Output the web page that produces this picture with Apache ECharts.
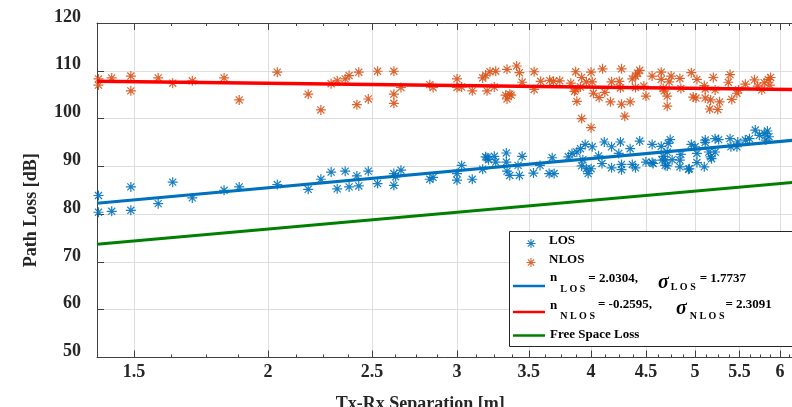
<!DOCTYPE html>
<html>
<head>
<meta charset="UTF-8">
<title>Path Loss</title>
<script src="https://cdn.jsdelivr.net/npm/echarts@6/dist/echarts.min.js"></script>
<style>
html, body { margin: 0; padding: 0; background: #fff; }
#main { width: 792px; height: 407px; }
</style>
</head>
<body>
<div id="main"></div>
<script type="text/javascript">
// axis ticks / range
var xTicks = [1.5, 2, 2.5, 3, 3.5, 4, 4.5, 5, 5.5, 6];
var xMin = 1.3856, xMax = 6.2;
var yMin = 50, yMax = 120, yStep = 10;

// measured points [distance m, path loss dB]
var losPoints = [
  [1.39, 83.9], [1.39, 80.4], [1.43, 80.6], [1.49, 85.7], [1.49, 80.8], [1.58, 82.2], [1.63, 86.7],
  [1.70, 83.4], [1.82, 85.0], [1.88, 85.7], [2.04, 86.2], [2.18, 85.2],
  [2.24, 87.3], [2.29, 88.8], [2.32, 85.3], [2.36, 89.0], [2.38, 85.7], [2.42, 88.0], [2.43, 85.9],
  [2.48, 89.0], [2.53, 86.4], [2.62, 86.0], [2.62, 88.5], [2.63, 87.8], [2.66, 89.2], [2.83, 87.3],
  [2.85, 87.7], [3.0, 88.5], [3.0, 87.1], [3.03, 90.2], [3.10, 87.3], [3.17, 89.4], [3.19, 92.0],
  [3.21, 91.4], [3.25, 92.1], [3.26, 90.9], [3.20, 91.8], [3.335, 92.8], [3.335, 90.9], [3.34, 89.0],
  [3.36, 88.1], [3.42, 90.2], [3.43, 88.1], [3.45, 92.1], [3.535, 88.6], [3.585, 90.2], [3.656, 88.5],
  [3.695, 88.5], [3.68, 91.8], [3.81, 92.0], [3.84, 92.7], [3.88, 93.0], [3.91, 93.7], [3.95, 94.6],
  [3.93, 91.4], [3.92, 90.1], [3.96, 89.5], [3.975, 88.5], [4.01, 94.1], [4.0, 89.5], [4.065, 92.2],
  [4.095, 90.6], [4.115, 95.1], [4.18, 89.7], [4.18, 94.1], [4.245, 92.7], [4.26, 95.1], [4.27, 90.4],
  [4.27, 89.3], [4.35, 93.7], [4.37, 90.4], [4.40, 89.7], [4.44, 95.3], [4.50, 90.9], [4.57, 90.6],
  [4.56, 94.6], [4.56, 90.8], [4.65, 94.2], [4.66, 91.3], [4.67, 92.1], [4.69, 91.3], [4.69, 90.2],
  [4.71, 93.0], [4.72, 94.8], [4.74, 95.6], [4.76, 91.4], [4.71, 90.1], [4.84, 89.9], [4.84, 91.3],
  [4.85, 92.5], [4.93, 89.4], [4.94, 89.5], [4.96, 94.6], [5.0, 94.1], [5.02, 92.7], [5.02, 90.8],
  [5.10, 89.9], [5.11, 95.5], [5.11, 95.0], [5.15, 93.0], [5.17, 92.0], [5.18, 91.6], [5.22, 95.8],
  [5.26, 95.6], [5.22, 93.0], [5.39, 95.8], [5.40, 94.1], [5.47, 94.1], [5.48, 95.1], [5.57, 95.5],
  [5.62, 95.8], [5.69, 97.6], [5.74, 96.5], [5.80, 96.9], [5.84, 97.4], [5.86, 96.2], [5.82, 95.5]
];
var nlosPoints = [
  [1.39, 108.3], [1.39, 107.0], [1.43, 108.5], [1.49, 108.9], [1.49, 105.8], [1.58, 108.5], [1.63, 107.4],
  [1.70, 107.9], [1.82, 108.5], [1.88, 103.9], [2.04, 109.7], [2.18, 105.1], [2.24, 101.8], [2.29, 107.3],
  [2.32, 107.9], [2.36, 108.3], [2.38, 109.0], [2.42, 102.9], [2.43, 109.7], [2.48, 104.1], [2.53, 109.9],
  [2.62, 105.1], [2.62, 103.2], [2.62, 109.9], [2.66, 106.5], [2.83, 107.1], [2.85, 106.5], [3.0, 108.3],
  [3.0, 106.5], [3.03, 106.6], [3.10, 105.8], [3.17, 108.5], [3.19, 109.1], [3.20, 105.8], [3.22, 109.8],
  [3.25, 106.6], [3.26, 109.9], [3.34, 110.3], [3.34, 104.1], [3.36, 105.1], [3.33, 104.9], [3.37, 104.9],
  [3.41, 111.0], [3.43, 109.6], [3.45, 107.6], [3.54, 109.8], [3.54, 106.1], [3.59, 107.8], [3.66, 108.0],
  [3.69, 107.8], [3.74, 107.9], [3.83, 107.4], [3.87, 109.8], [3.87, 106.0], [3.86, 105.7], [3.88, 103.6],
  [3.91, 106.6], [3.92, 108.6], [3.92, 100.0], [3.96, 107.7], [4.0, 109.7], [4.01, 107.7], [4.02, 105.3],
  [4.0, 98.1], [4.07, 104.4], [4.10, 110.4], [4.12, 105.5], [4.17, 103.5], [4.18, 107.7], [4.25, 107.8],
  [4.26, 106.4], [4.27, 110.4], [4.27, 103.0], [4.30, 100.5], [4.35, 103.5], [4.37, 108.3], [4.40, 108.9],
  [4.42, 109.5], [4.44, 110.1], [4.40, 106.5], [4.48, 106.8], [4.50, 104.7], [4.56, 108.9], [4.65, 109.7],
  [4.65, 108.2], [4.67, 106.3], [4.68, 105.8], [4.71, 104.7], [4.71, 102.6], [4.73, 107.7], [4.75, 108.9],
  [4.84, 108.4], [4.85, 106.3], [4.96, 109.6], [5.02, 108.2], [4.98, 104.5], [5.01, 104.3], [5.10, 106.9],
  [5.11, 106.2], [5.11, 104.3], [5.17, 103.9], [5.16, 102.0], [5.20, 108.6], [5.22, 106.0], [5.25, 101.9],
  [5.27, 103.5], [5.39, 109.2], [5.37, 107.6], [5.41, 104.0], [5.47, 105.3], [5.49, 106.0], [5.57, 107.2],
  [5.68, 108.1], [5.72, 106.8], [5.77, 106.0], [5.80, 107.5], [5.85, 108.2], [5.87, 107.0], [5.88, 108.6]
];

// fitted lines and free space loss (end points)
var losFit = [[1.3856, 82.3], [6.2, 95.5]];
var nlosFit = [[1.3856, 107.8], [6.2, 106.1]];
var freeSpace = [[1.3856, 73.7], [6.2, 86.7]];

var fontName = 'Liberation Serif';
var axisColor = '#404040';
var textColor = '#262626';
var gridColor = '#dedede';

// minor ticks every 0.125 m
var xMinor = [];
for (var i = 0; i <= 37; i++) {
  xMinor.push(Math.round((1.5 + i * 0.125) * 1000) / 1000);
}

// asterisk marker like matlab '*'
var star = 'path://M0 8.8H20V11.2H0Z M8.8 0H11.2V20H8.8Z M3.78 2.08L17.92 16.22L16.22 17.92L2.08 3.78Z M17.92 3.78L3.78 17.92L2.08 16.22L16.22 2.08Z';

function makeX(pos, ticks, len, mainAxis) {
  return {
    type: 'log',
    logBase: 10,
    position: pos,
    min: xMin,
    max: xMax,
    name: mainAxis ? 'Tx-Rx Separation [m]' : '',
    nameLocation: 'middle',
    nameGap: 38,
    nameTextStyle: { fontFamily: fontName, fontWeight: 'bold', fontSize: 18, color: textColor, padding: [0, 52, 0, 0] },
    axisLine: { show: len > 5, lineStyle: { color: axisColor, width: 1 } },
    axisTick: { show: true, inside: true, length: len, customValues: ticks, lineStyle: { color: axisColor } },
    axisLabel: {
      show: mainAxis,
      customValues: ticks,
      margin: 6,
      fontFamily: fontName, fontWeight: 'bold', fontSize: 18, color: textColor,
      formatter: function (v) { return String(Math.round(v * 10) / 10); }
    },
    splitLine: { show: mainAxis, lineStyle: { color: gridColor, width: 1 } },
    minorTick: { show: false },
    minorSplitLine: { show: false }
  };
}

function tok(size, lh, pad, italic) {
  return {
    fontFamily: fontName, fontWeight: 'bold', fontStyle: italic ? 'italic' : 'normal',
    fontSize: size, lineHeight: lh, padding: pad, verticalAlign: 'top', color: '#000'
  };
}

// spacer token: sets the height of the legend text block
function spacer(h) {
  return { fontSize: 1, lineHeight: h, verticalAlign: 'top' };
}

function makeLegend(name, left, top, fmt, rich, itemW, itemH, icon) {
  var lg = {
    data: [name],
    left: left,
    top: top,
    padding: 0,
    itemWidth: itemW,
    itemHeight: itemH,
    selectedMode: false,
    z: 10,
    formatter: fmt,
    textStyle: { fontFamily: fontName, fontWeight: 'bold', fontSize: 13, color: '#000', rich: rich }
  };
  if (icon) lg.icon = icon;
  return lg;
}

var chart = echarts.init(document.getElementById('main'));

var option = {
  animation: false,
  backgroundColor: '#fff',
  grid: { left: 97, top: 23, right: -3.3, bottom: 49.5, containLabel: false, outerBoundsMode: 'none' },
  xAxis: [
    makeX('bottom', xTicks, 7, true),
    makeX('bottom', xMinor, 3, false),
    makeX('top', xTicks, 7, false),
    makeX('top', xMinor, 3, false)
  ],
  yAxis: {
    type: 'value',
    min: yMin,
    max: yMax,
    interval: yStep,
    name: 'Path Loss [dB]',
    nameLocation: 'middle',
    nameGap: 57,
    nameTextStyle: { fontFamily: fontName, fontWeight: 'bold', fontSize: 18, color: textColor, padding: [0, 40, 0, 0] },
    axisLine: { show: true, lineStyle: { color: axisColor, width: 1 } },
    axisTick: { show: true, inside: true, length: 7, lineStyle: { color: axisColor } },
    axisLabel: {
      margin: 16, verticalAlign: 'bottom', lineHeight: 12,
      fontFamily: fontName, fontWeight: 'bold', fontSize: 18, color: textColor
    },
    splitLine: { show: true, lineStyle: { color: gridColor, width: 1 } }
  },
  legend: [
    makeLegend('LOS', 526.5, 234, '{t|LOS}{z| }', { t: tok(13, 13, [0, 0, 0, 0]), z: spacer(19) }, 26, 9),
    makeLegend('NLOS', 526.5, 253, '{t|NLOS}{z| }', { t: tok(13, 13, [0, 0, 0, 0]), z: spacer(19) }, 26, 9),
    makeLegend('fitLOS', 513, 268, '{n|n}{s1|L O S}{e1|= 2.0304,}{g|σ}{s2|L O S}{e2|= 1.7737}{z| }', {
      n: tok(13, 10, [3, 0, 0, 0]),
      s1: tok(10, 9, [16, 0, 0, 3]),
      e1: tok(13, 13, [4, 0, 0, 3]),
      g: tok(20, 20, [5, 0, 0, 20], true),
      s2: tok(10, 9, [14, 0, 0, 2]),
      e2: tok(13, 13, [4, 0, 0, 4]),
      z: spacer(36)
    }, 32, 2.5, 'rect'),
    makeLegend('fitNLOS', 513, 294, '{n|n}{s1|N L O S}{e1|= -0.2595,}{g|σ}{s2|N L O S}{e2|= 2.3091}{z| }', {
      n: tok(13, 10, [5, 0, 0, 0]),
      s1: tok(10, 9, [17, 0, 0, 3]),
      e1: tok(13, 13, [4, 0, 0, 3]),
      g: tok(20, 20, [5, 0, 0, 24], true),
      s2: tok(10, 9, [17, 0, 0, 3]),
      e2: tok(13, 13, [4, 0, 0, 1]),
      z: spacer(36)
    }, 32, 2.5, 'rect'),
    makeLegend('Free Space Loss', 513, 328, '{t|Free Space Loss}', { t: tok(13, 15, [0, 0, 0, 0]) }, 32, 2.5, 'rect')
  ],
  graphic: [{
    type: 'rect',
    z: 5,
    shape: { x: 509.5, y: 231.5, width: 300, height: 115 },
    style: { fill: '#fff', stroke: '#262626', lineWidth: 1 }
  }],
  series: [
    {
      name: 'LOS', type: 'scatter', data: losPoints, symbol: star, symbolSize: 10,
      itemStyle: { color: '#0072BD', opacity: 0.9 }, z: 2
    },
    {
      name: 'NLOS', type: 'scatter', data: nlosPoints, symbol: star, symbolSize: 10,
      itemStyle: { color: '#D95319', opacity: 0.9 }, z: 2
    },
    {
      name: 'fitLOS', type: 'line', data: losFit, symbol: 'none',
      lineStyle: { color: '#0072BD', width: 3 }, itemStyle: { color: '#0072BD' }, z: 3
    },
    {
      name: 'fitNLOS', type: 'line', data: nlosFit, symbol: 'none',
      lineStyle: { color: '#FF0000', width: 3.5 }, itemStyle: { color: '#FF0000' }, z: 3
    },
    {
      name: 'Free Space Loss', type: 'line', data: freeSpace, symbol: 'none',
      lineStyle: { color: '#008000', width: 3 }, itemStyle: { color: '#008000' }, z: 3
    }
  ]
};

chart.setOption(option);
</script>
</body>
</html>
